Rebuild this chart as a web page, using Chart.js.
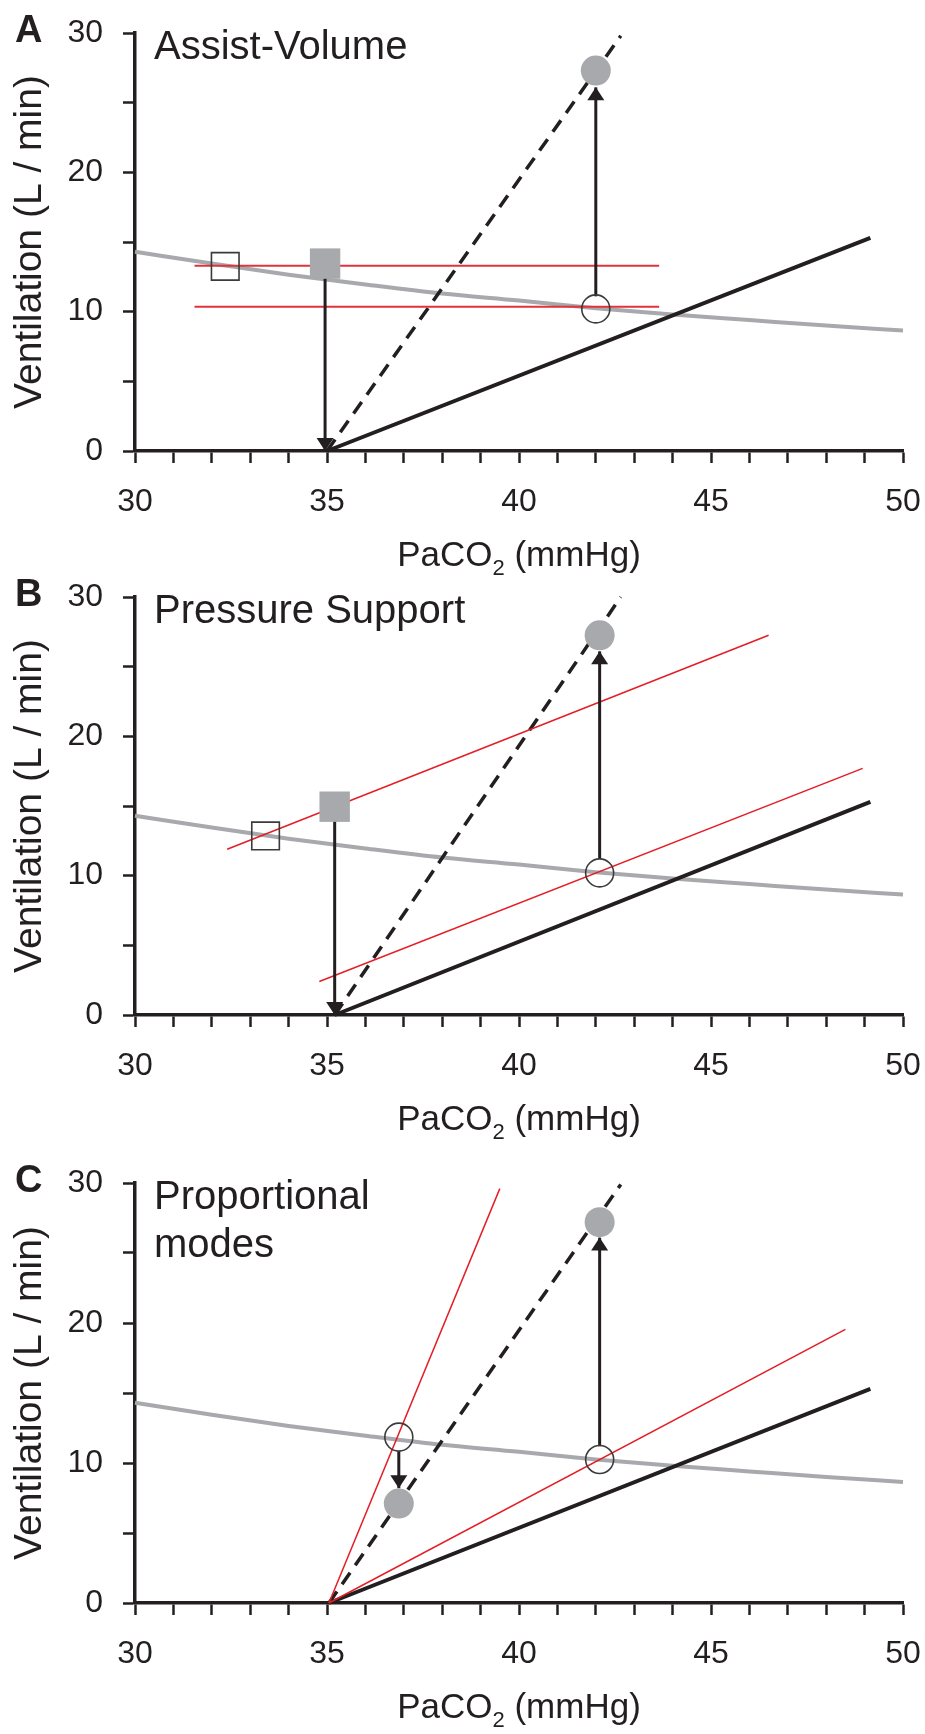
<!DOCTYPE html>
<html>
<head>
<meta charset="utf-8">
<script src="https://cdn.jsdelivr.net/npm/chart.js@4.4.1/dist/chart.umd.min.js"></script>
<style>
  html, body { margin: 0; padding: 0; background: #fff; }
  body { width: 925px; height: 1734px; position: relative; overflow: hidden; }
  canvas { position: absolute; left: 0; }
</style>
</head>
<body>
<canvas id="panelA" width="925" height="578" style="top:0px"></canvas>
<canvas id="panelB" width="925" height="578" style="top:564px"></canvas>
<canvas id="panelC" width="925" height="580" style="top:1150px"></canvas>
<script>
// axis labels
const xTickLabels = [30, 35, 40, 45, 50];
const yTickLabels = [0, 10, 20, 30];

// grey metabolic hyperbola (same in all panels)
const curveX = [30, 32, 34, 36, 38, 40, 42, 44, 46, 48, 50];
const curveY = [14.3, 13.45, 12.65, 11.95, 11.3, 10.8, 10.25, 9.8, 9.4, 9.0, 8.65];

// panel A - Assist-Volume
const aSolidX = [35, 49.15], aSolidY = [0, 15.3];
const aDashX = [35, 42.65], aDashY = [0, 29.8];
const aRedHighX = [31.55, 43.65], aRedHighY = [13.3, 13.3];
const aRedLowX = [31.55, 43.65], aRedLowY = [10.35, 10.35];
const aOpenSquare = [32.35, 13.25];
const aFilledSquare = [34.95, 13.45];
const aOpenCircle = [42.0, 10.2];
const aFilledCircle = [42.0, 27.3];
const aArrowDownX = [34.95, 34.95], aArrowDownY = [12.4, 0];
const aArrowUpX = [42.0, 42.0], aArrowUpY = [11.1, 26.1];

// panel B - Pressure Support
const bSolidX = [35.2, 49.15], bSolidY = [0, 15.3];
const bDashX = [35.2, 42.65], bDashY = [0, 30];
const bRedUpperX = [32.4, 46.5], bRedUpperY = [11.9, 27.25];
const bRedLowerX = [34.8, 48.95], bRedLowerY = [2.4, 17.7];
const bOpenSquare = [33.4, 12.85];
const bFilledSquare = [35.2, 14.95];
const bOpenCircle = [42.1, 10.2];
const bFilledCircle = [42.1, 27.25];
const bArrowDownX = [35.2, 35.2], bArrowDownY = [13.9, 0];
const bArrowUpX = [42.1, 42.1], bArrowUpY = [11.2, 26.1];

// panel C - Proportional modes
const cSolidX = [35.05, 49.15], cSolidY = [0, 15.3];
const cDashX = [35.05, 42.65], cDashY = [0, 29.9];
const cRedSteepX = [35.05, 39.5], cRedSteepY = [0, 29.6];
const cRedShallowX = [35.05, 48.5], cRedShallowY = [0, 19.55];
const cOpenCircle1 = [36.87, 11.85];
const cFilledCircle1 = [36.87, 7.1];
const cOpenCircle2 = [42.1, 10.25];
const cFilledCircle2 = [42.1, 27.2];
const cArrowDownX = [36.87, 36.87], cArrowDownY = [10.85, 8.2];
const cArrowUpX = [42.1, 42.1], cArrowUpY = [11.2, 26.1];

const ink = '#231f20';
const grey = '#a7a9ac';
const red = '#e41e26';
const font = 'Liberation Sans, Arial, Helvetica, sans-serif';

const pts = (xs, ys) => xs.map((x, i) => ({ x: x, y: ys[i] }));
const pt = p => [{ x: p[0], y: p[1] }];

function line(xs, ys, color, width, dash) {
  return { data: pts(xs, ys), showLine: true, borderColor: color, borderWidth: width,
           borderDash: dash || [], pointRadius: 0, clip: false };
}
function curve() {
  return { data: pts(curveX, curveY), showLine: true, borderColor: grey, borderWidth: 4,
           cubicInterpolationMode: 'monotone', pointRadius: 0, clip: false };
}
function arrow(xs, ys) {
  const d = line(xs, ys, ink, 3);
  d.arrow = true;
  return d;
}
function marker(p, style, filled, r) {
  return { data: pt(p), pointStyle: style, pointRadius: r,
           backgroundColor: filled ? grey : 'rgba(0,0,0,0)',
           borderColor: filled ? grey : '#3b3b3b', borderWidth: filled ? 0 : 1.6, clip: false };
}

// arrow heads at the last point of arrow datasets
const arrowHeads = {
  id: 'arrowHeads',
  afterDatasetsDraw(chart) {
    const ctx = chart.ctx;
    chart.data.datasets.forEach((ds, i) => {
      if (!ds.arrow) return;
      const el = chart.getDatasetMeta(i).data;
      const a = el[el.length - 2], b = el[el.length - 1];
      const ang = Math.atan2(b.y - a.y, b.x - a.x);
      const len = 13, half = 8.5;
      const bx = b.x - len * Math.cos(ang), by = b.y - len * Math.sin(ang);
      ctx.save();
      ctx.fillStyle = ink;
      ctx.beginPath();
      ctx.moveTo(b.x, b.y);
      ctx.lineTo(bx + half * Math.sin(ang), by - half * Math.cos(ang));
      ctx.lineTo(bx - half * Math.sin(ang), by + half * Math.cos(ang));
      ctx.closePath();
      ctx.fill();
      ctx.restore();
    });
  }
};

// panel letter, mode name and x title with subscript
const panelText = {
  id: 'panelText',
  afterDraw(chart, args, opts) {
    const ctx = chart.ctx;
    const area = chart.chartArea;
    ctx.save();
    ctx.fillStyle = ink;
    ctx.textBaseline = 'alphabetic';
    ctx.textAlign = 'left';
    ctx.font = 'bold 38px ' + font;
    ctx.fillText(opts.letter, 15, area.top + 9);
    ctx.font = '40px ' + font;
    opts.lines.forEach((t, i) => ctx.fillText(t, 154, area.top + 26 + i * 48));

    const main = '35px ' + font, sub = '22px ' + font;
    ctx.font = main;
    const w1 = ctx.measureText('PaCO').width;
    const w3 = ctx.measureText(' (mmHg)').width;
    ctx.font = sub;
    const w2 = ctx.measureText('2').width;
    let x = (area.left + area.right) / 2 - (w1 + w2 + w3) / 2;
    const base = area.bottom + 115;
    ctx.font = main;
    ctx.fillText('PaCO', x, base);
    ctx.font = sub;
    ctx.fillText('2', x + w1, base + 9);
    ctx.font = main;
    ctx.fillText(' (mmHg)', x + w1 + w2, base);
    ctx.restore();
  }
};

function makePanel(id, datasets, letter, lines) {
  return new Chart(document.getElementById(id), {
    type: 'scatter',
    data: { datasets: datasets },
    plugins: [arrowHeads, panelText],
    options: {
      responsive: false,
      devicePixelRatio: 1,
      animation: false,
      events: [],
      layout: { padding: { top: 33, right: 22, bottom: 0, left: 0 } },
      plugins: {
        legend: { display: false },
        tooltip: { enabled: false },
        panelText: { letter: letter, lines: lines }
      },
      scales: {
        x: {
          type: 'linear', min: 30, max: 50,
          afterFit: s => { s.height = 127; s.paddingLeft = 0; s.paddingRight = 0; },
          border: { display: true, color: ink, width: 3.5 },
          grid: { display: true, drawOnChartArea: false, drawTicks: true,
                  tickLength: 12, tickWidth: 2.5, tickColor: ink },
          ticks: {
            stepSize: 1, autoSkip: false, maxRotation: 0, padding: 20,
            color: ink, font: { family: font, size: 32 },
            callback: v => xTickLabels.includes(v) ? String(v) : ''
          }
        },
        y: {
          type: 'linear', min: 0, max: 30,
          afterFit: s => { s.width = 135; s.paddingTop = 0; s.paddingBottom = 0; },
          border: { display: true, color: ink, width: 3.5 },
          grid: { display: true, drawOnChartArea: false, drawTicks: true,
                  tickLength: 12, tickWidth: 2.5, tickColor: ink },
          ticks: {
            stepSize: 5, padding: 20,
            color: ink, font: { family: font, size: 32 },
            callback: v => yTickLabels.includes(v) ? String(v) : ''
          },
          title: {
            display: true, text: 'Ventilation (L / min)', color: ink,
            font: { family: font, size: 39 }, padding: { top: 7, bottom: 0 }
          }
        }
      }
    }
  });
}

makePanel('panelA', [
  marker(aFilledSquare, 'rect', true, 21.5),
  marker(aOpenSquare, 'rect', false, 19.5),
  marker(aFilledCircle, 'circle', true, 15),
  marker(aOpenCircle, 'circle', false, 14),
  arrow(aArrowDownX, aArrowDownY),
  arrow(aArrowUpX, aArrowUpY),
  line(aRedHighX, aRedHighY, '#e2323c', 2),
  line(aRedLowX, aRedLowY, '#e2323c', 2),
  line(aDashX, aDashY, ink, 3.5, [14, 9]),
  line(aSolidX, aSolidY, ink, 4),
  curve()
], 'A', ['Assist-Volume']);

makePanel('panelB', [
  marker(bFilledSquare, 'rect', true, 21.5),
  marker(bOpenSquare, 'rect', false, 19.5),
  marker(bFilledCircle, 'circle', true, 15),
  marker(bOpenCircle, 'circle', false, 14),
  arrow(bArrowDownX, bArrowDownY),
  arrow(bArrowUpX, bArrowUpY),
  line(bRedUpperX, bRedUpperY, red, 1.5),
  line(bRedLowerX, bRedLowerY, red, 1.5),
  line(bDashX, bDashY, ink, 3.5, [14, 9]),
  line(bSolidX, bSolidY, ink, 4),
  curve()
], 'B', ['Pressure Support']);

makePanel('panelC', [
  marker(cFilledCircle1, 'circle', true, 15),
  marker(cFilledCircle2, 'circle', true, 15),
  marker(cOpenCircle1, 'circle', false, 14),
  marker(cOpenCircle2, 'circle', false, 14),
  arrow(cArrowDownX, cArrowDownY),
  arrow(cArrowUpX, cArrowUpY),
  line(cRedSteepX, cRedSteepY, red, 1.5),
  line(cRedShallowX, cRedShallowY, red, 1.5),
  line(cDashX, cDashY, ink, 3.5, [14, 9]),
  line(cSolidX, cSolidY, ink, 4),
  curve()
], 'C', ['Proportional', 'modes']);
</script>
</body>
</html>
